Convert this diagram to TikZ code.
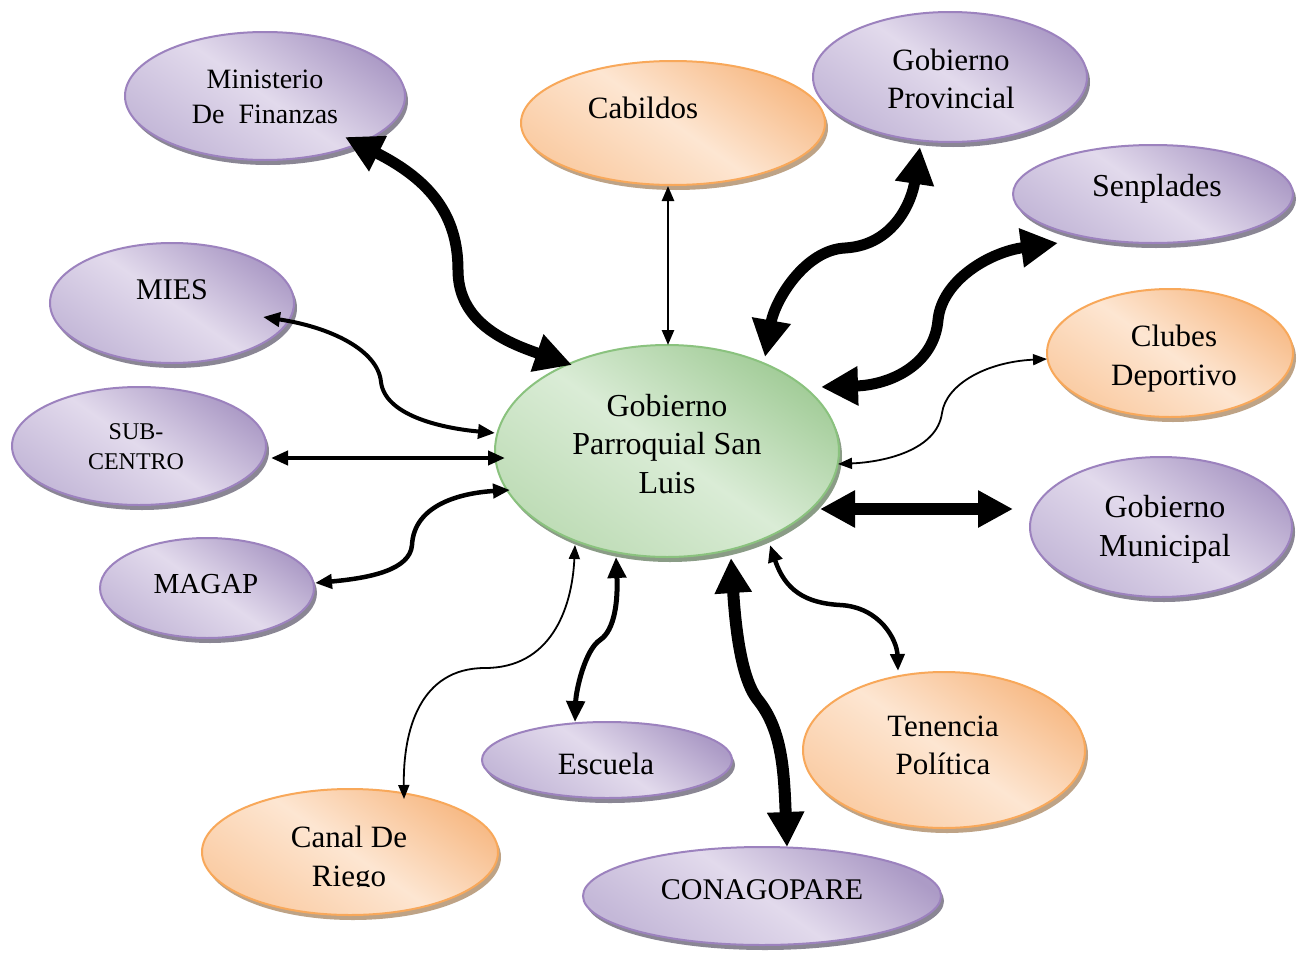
\documentclass[tikz,border=0pt]{standalone}
\usepackage{fontspec}
\setmainfont{Liberation Serif}
\usetikzlibrary{shapes.geometric,arrows.meta,shadows}

\definecolor{pdark}{RGB}{172,155,198}
\definecolor{plight}{RGB}{226,218,236}
\definecolor{pmid}{RGB}{196,184,216}
\definecolor{pborder}{RGB}{156,130,190}
\definecolor{pshadow}{RGB}{138,134,148}
\definecolor{odark}{RGB}{247,186,134}
\definecolor{olight}{RGB}{253,230,210}
\definecolor{omid}{RGB}{250,204,164}
\definecolor{oborder}{RGB}{248,168,90}
\definecolor{oshadow}{RGB}{190,163,134}
\definecolor{gdark}{RGB}{162,204,152}
\definecolor{glight}{RGB}{218,236,214}
\definecolor{gmid}{RGB}{190,220,182}
\definecolor{gborder}{RGB}{138,194,126}
\definecolor{gshadow}{RGB}{138,156,134}

\begin{document}
\begin{tikzpicture}[x=1pt,y=-1pt,
  bubble/.style={ellipse, inner sep=0pt, outer sep=0pt, line width=2pt},
  pbub/.style={bubble, draw=pborder, top color=pdark, bottom color=pmid, middle color=plight, shading angle=-35,
    general shadow={fill=pshadow, shadow xshift=3pt, shadow yshift=-5pt}},
  obub/.style={bubble, draw=oborder, top color=odark, bottom color=omid, middle color=olight, shading angle=-35,
    general shadow={fill=oshadow, shadow xshift=3pt, shadow yshift=-5pt}},
  gbub/.style={bubble, draw=gborder, top color=gdark, bottom color=gmid, middle color=glight, shading angle=-35,
    general shadow={fill=gshadow, shadow xshift=3pt, shadow yshift=-5pt}},
  txt/.style={align=center, inner sep=0pt, text=black},
  hugearr/.style={line width=12pt, {Triangle[length=35pt,width=35pt]}-{Triangle[length=35pt,width=35pt]}},
  bigarr/.style={line width=11pt, {Triangle[length=37pt,width=37pt]}-{Triangle[length=37pt,width=37pt]}},
  medarr/.style={line width=4.5pt, {Triangle[length=17pt,width=14pt]}-{Triangle[length=17pt,width=14pt]}},
  slimarr/.style={line width=2.5pt, {Triangle[length=15pt,width=12pt]}-{Triangle[length=15pt,width=12pt]}},
  thinarr/.style={line width=1.8pt, {Triangle[length=14pt,width=11pt]}-{Triangle[length=14pt,width=11pt]}}
]
\fill[white] (0,0) rectangle (1299,953);
\useasboundingbox (0,0) rectangle (1299,953);

% ellipses
\node[pbub, minimum width=280pt, minimum height=128pt] (min) at (265,96) {};
\node[obub, minimum width=304pt, minimum height=124pt] (cab) at (673,123) {};
\node[pbub, minimum width=274pt, minimum height=130pt] (gpr) at (950,77) {};
\node[pbub, minimum width=280pt, minimum height=98pt] (sen) at (1153,194) {};
\node[pbub, minimum width=244pt, minimum height=120pt] (mies) at (172,303) {};
\node[pbub, minimum width=254pt, minimum height=118pt] (sub) at (139,446) {};
\node[pbub, minimum width=214pt, minimum height=100pt] (mag) at (207,588) {};
\node[gbub, minimum width=344pt, minimum height=212pt] (cen) at (667,451) {};
\node[obub, minimum width=246pt, minimum height=128pt] (clu) at (1170,353) {};
\node[pbub, minimum width=262pt, minimum height=140pt] (gmu) at (1161,527) {};
\node[obub, minimum width=282pt, minimum height=156pt] (ten) at (944,750) {};
\node[pbub, minimum width=250pt, minimum height=76pt] (esc) at (607,760) {};
\node[obub, minimum width=296pt, minimum height=126pt] (can) at (350,852) {};
\node[pbub, minimum width=358pt, minimum height=98pt] (con) at (762,896) {};

% texts
\node[txt, font=\fontsize{28}{35}\selectfont] (mint) at (265,97) {Ministerio\\De\ \ Finanzas};
\node[txt, font=\fontsize{31}{38}\selectfont] (cabt) at (643,108) {Cabildos};
\node[txt, font=\fontsize{31}{38}\selectfont] (gprt) at (951,79) {Gobierno\\Provincial};
\node[txt, font=\fontsize{32}{38}\selectfont] (sent) at (1157,189) {Senplades};
\node[txt, font=\fontsize{30}{36}\selectfont] (miest) at (172,290) {MIES};
\node[txt, font=\fontsize{24}{30}\selectfont] (subt) at (136,447) {SUB-\\CENTRO};
\node[txt, font=\fontsize{29}{36}\selectfont] (magt) at (206,584) {MAGAP};
\node[txt, font=\fontsize{32}{38.5}\selectfont] (cent) at (667,444) {Gobierno\\Parroquial San\\Luis};
\node[txt, font=\fontsize{31}{39}\selectfont] (clut) at (1174,359) {Clubes\\Deportivo};
\node[txt, font=\fontsize{32}{39}\selectfont] (gmut) at (1165,529) {Gobierno\\Municipal};
\node[txt, font=\fontsize{31}{38}\selectfont] (tent) at (943,745) {Tenencia\\Política};
\node[txt, font=\fontsize{31}{38}\selectfont] (esct) at (606,764) {Escuela};
\begin{scope}
\clip (0,0) rectangle (1299,886);
\node[txt, font=\fontsize{31}{39}\selectfont] (cant) at (349,860) {Canal De\\Riego};
\end{scope}
\node[txt, font=\fontsize{30}{36}\selectfont] (cont) at (762,890) {CONAGOPARE};

% connectors
\draw[bigarr] ([shift={(80,41)}]min.center) .. controls (430,180) and (458,215) .. (458,270)
   .. controls (458,322) and (505,342) .. ([shift={(-95,-86)}]cen.center);
\draw[slimarr] ([shift={(-5,63)}]cab.center) -- ([shift={(1,-106)}]cen.center);
\draw[bigarr] ([shift={(-30,70)}]gpr.center) .. controls (912,200) and (895,245) .. (845,248)
   .. controls (805,250) and (775,300) .. ([shift={(98,-94)}]cen.center);
\draw[bigarr] ([shift={(-95,49)}]sen.center) .. controls (990,252) and (942,280) .. (938,320)
   .. controls (934,365) and (890,385) .. ([shift={(154,-64)}]cen.center);
\draw[thinarr] ([shift={(-123,6)}]clu.center) .. controls (985,362) and (946,385) .. (942,413)
   .. controls (937,450) and (885,462) .. ([shift={(171,13)}]cen.center);
\draw[hugearr] ([shift={(-148,-18)}]gmu.center) -- ([shift={(153,58)}]cen.center);
\draw[medarr] ([shift={(-46,-79)}]ten.center) .. controls (897,640) and (880,607) .. (840,605)
   .. controls (805,603) and (785,590) .. ([shift={(103,94)}]cen.center);
\draw[hugearr] ([shift={(25,-49)}]con.center) .. controls (784,770) and (782,730) .. (758,700)
   .. controls (740,678) and (735,620) .. ([shift={(64,107)}]cen.center);
\draw[medarr, line width=5pt, {Triangle[length=21pt,width=18pt]}-{Triangle[length=21pt,width=18pt]}]
   ([shift={(-32,-38)}]esc.center) .. controls (576,690) and (585,650) .. (600,640)
   .. controls (615,630) and (618,600) .. ([shift={(-51,106)}]cen.center);
\draw[thinarr] ([shift={(54,-53)}]can.center) .. controls (403,730) and (420,668) .. (485,668)
   .. controls (550,668) and (572,610) .. ([shift={(-92,94)}]cen.center);
\draw[medarr] ([shift={(108,-5)}]mag.center) .. controls (370,578) and (410,570) .. (412,545)
   .. controls (414,505) and (460,493) .. ([shift={(-157,39)}]cen.center);
\draw[medarr, line width=4pt] ([shift={(132,12)}]sub.center) -- ([shift={(-162,7)}]cen.center);
\draw[medarr, line width=4pt] ([shift={(91,14)}]mies.center) .. controls (330,327) and (378,350) .. (381,382)
   .. controls (385,415) and (440,428) .. ([shift={(-172,-18)}]cen.center);
\end{tikzpicture}
\end{document}
